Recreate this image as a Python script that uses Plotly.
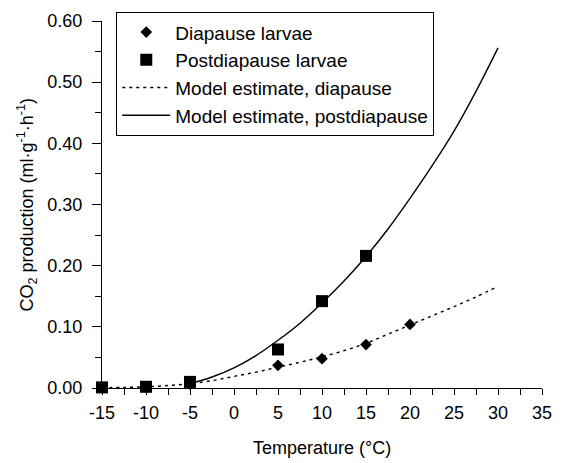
import plotly.graph_objects as go

# Measured data
diap_temp = [-15, -10, -5, 5, 10, 15, 20]
diap_co2 = [0.001, 0.002, 0.006, 0.037, 0.048, 0.071, 0.104]

post_temp = [-15, -10, -5, 5, 10, 15]
post_co2 = [0.001, 0.002, 0.010, 0.063, 0.142, 0.216]

# Model estimates
model_diap_temp = [-15, -12.5, -10, -7.5, -5, -2.5, 0, 2.5, 5, 7.5, 10, 12.5, 15, 17.5, 20, 22.5, 25, 27.5, 30]
model_diap_co2 = [0.0005, 0.001, 0.002, 0.004, 0.007, 0.012, 0.019, 0.026, 0.034, 0.042, 0.051, 0.061,
                  0.073, 0.088, 0.103, 0.118, 0.133, 0.149, 0.166]

model_post_temp = [-5, -2.5, 0, 2.5, 5, 7.5, 10, 12.5, 15, 17.5, 20, 22.5, 25, 27.5, 30]
model_post_co2 = [0.007, 0.018, 0.033, 0.053, 0.078, 0.106, 0.139, 0.175, 0.215, 0.26, 0.31, 0.363,
                  0.42, 0.485, 0.556]

x_ticks = [-15, -10, -5, 0, 5, 10, 15, 20, 25, 30, 35]
x_tick_labels = ["-15", "-10", "-5", "0", "5", "10", "15", "20", "25", "30", "35"]
y_ticks = [0.0, 0.1, 0.2, 0.3, 0.4, 0.5, 0.6]
y_tick_labels = ["0.00", "0.10", "0.20", "0.30", "0.40", "0.50", "0.60"]

FONT = "Liberation Sans, Arial, sans-serif"

fig = go.Figure()
fig.add_trace(go.Scatter(x=diap_temp, y=diap_co2, mode="markers", name="Diapause larvae",
                         marker=dict(symbol="diamond", size=9, color="black"),
                         cliponaxis=False, legendgroup="a"))
fig.add_trace(go.Scatter(x=post_temp, y=post_co2, mode="markers", name="Postdiapause larvae",
                         marker=dict(symbol="square", size=12, color="black"),
                         cliponaxis=False, legendgroup="b"))
fig.add_trace(go.Scatter(x=model_diap_temp, y=model_diap_co2, mode="lines",
                         name="Model estimate, diapause",
                         line=dict(color="black", width=1.4, dash="3px,4px", shape="spline"),
                         legendgroup="c"))
fig.add_trace(go.Scatter(x=model_post_temp, y=model_post_co2, mode="lines",
                         name="Model estimate, postdiapause",
                         line=dict(color="black", width=1.4, shape="spline"),
                         legendgroup="d"))

fig.update_layout(
    width=563, height=463,
    margin=dict(l=101.5, r=11.3, t=19, b=75, pad=0),
    paper_bgcolor="white", plot_bgcolor="white",
    font=dict(family=FONT, size=18, color="black"),
    showlegend=True,
    legend=dict(x=0.032, y=1.0244, xanchor="left", yanchor="top",
                bordercolor="black", borderwidth=1.2, bgcolor="white",
                font=dict(family=FONT, size=19, color="black"),
                itemwidth=48, tracegroupgap=3, traceorder="normal"),
    xaxis=dict(range=[-15, 35], tickvals=x_ticks, ticktext=x_tick_labels, showline=True,
               linecolor="black", linewidth=1.4,
               ticks="outside", ticklen=6, tickwidth=1.2, tickcolor="black",
               showgrid=False, zeroline=False, ticklabelstandoff=2,
               minor=dict(dtick=2.5, ticks="outside", ticklen=6, tickwidth=1.2, tickcolor="black",
                          showgrid=False),
               tickfont=dict(family=FONT, size=18)),
    yaxis=dict(range=[0, 0.6], tickvals=y_ticks, ticktext=y_tick_labels, showline=True,
               linecolor="black",
               linewidth=1.4, ticks="outside", ticklen=9, tickwidth=1.2, tickcolor="black",
               showgrid=False, zeroline=False, ticklabelstandoff=6,
               minor=dict(dtick=0.05, ticks="outside", ticklen=6, tickwidth=1.2, tickcolor="black",
                          showgrid=False),
               tickfont=dict(family=FONT, size=18)),
    annotations=[
        dict(text="Temperature (°C)", xref="paper", yref="paper", x=0.5, y=0,
             xanchor="center", yanchor="middle", yshift=-60, showarrow=False,
             font=dict(family=FONT, size=18)),
        dict(text="CO<sub>2</sub> production (ml·g<sup>-1</sup>·h<sup>-1</sup>)", xref="paper",
             yref="paper", x=0, y=0.5, xanchor="center", yanchor="middle", xshift=-75,
             textangle=-90, showarrow=False, font=dict(family=FONT, size=18)),
    ],
)

fig.write_html("out.html")
